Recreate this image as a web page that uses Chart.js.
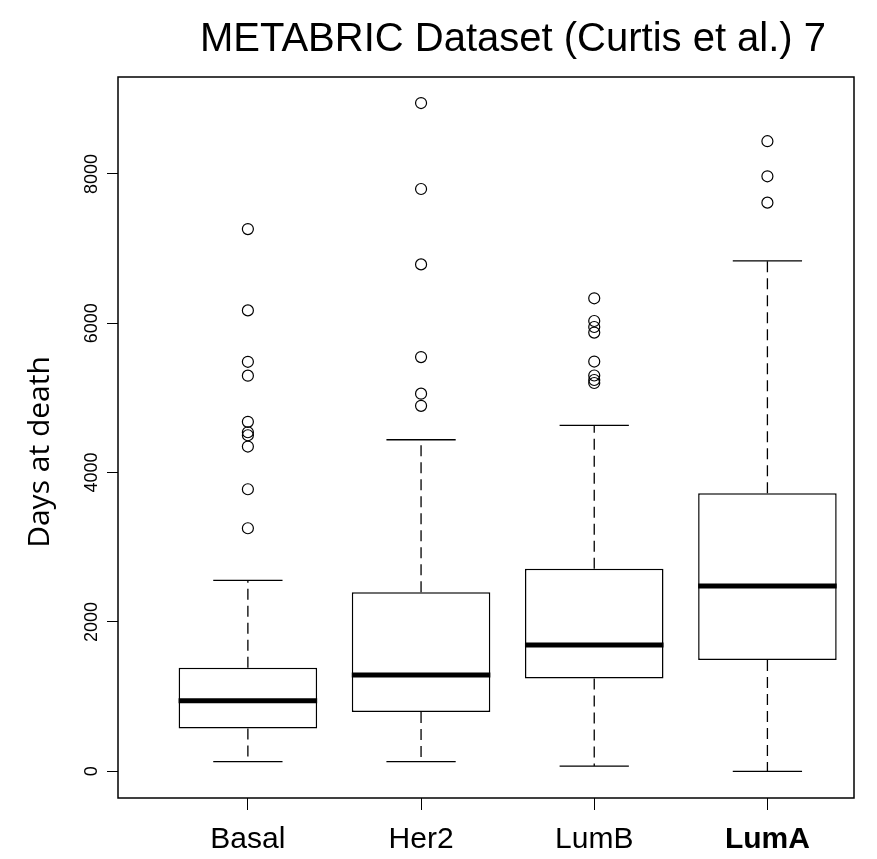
<!DOCTYPE html>
<html>
<head>
<meta charset="utf-8">
<title>METABRIC boxplot</title>
<script src="https://cdn.jsdelivr.net/npm/chart.js@4.4.1/dist/chart.umd.min.js"></script>
<style>
  html, body { margin: 0; padding: 0; background: #fff; }
  #wrap { position: relative; width: 877px; height: 859px; }
</style>
</head>
<body>
<div id="wrap"><canvas id="boxChart"></canvas></div>
<script>
// Days at death by PAM50 subtype, METABRIC (Curtis et al.)
const categories  = ['Basal', 'Her2', 'LumB', 'LumA'];
const whiskerLow  = [130, 130, 70, 0];
const q1          = [573, 795, 1244, 1492];
const medians     = [944, 1290, 1690, 2481];
const q3          = [1386, 2398, 2713, 3722];
const whiskerHigh = [2556, 4440, 4632, 6834];

const basalOutliers = [3255, 3777, 4349, 4500, 4540, 4680, 5298, 5484, 6172, 7261];
const her2Outliers  = [4894, 5057, 5547, 6788, 7798, 8949];
const lumBOutliers  = [5200, 5240, 5300, 5487, 5875, 5950, 6030, 6334];
const lumAOutliers  = [7615, 7968, 8438];

const yTicks = [0, 2000, 4000, 6000, 8000];
const chartTitle = 'METABRIC Dataset (Curtis et al.) 7';
const yTitle = 'Days at death';

const FONT = "'Liberation Sans', Arial, Helvetica, sans-serif";

// whiskers, staples and medians, placed through the chart scales
const boxWhiskers = {
  id: 'boxWhiskers',
  afterDatasetsDraw(chart) {
    const { ctx, scales: { x, y } } = chart;
    const cap  = x.getPixelForValue(1.2) - x.getPixelForValue(1);
    const half = x.getPixelForValue(1.4) - x.getPixelForValue(1);
    ctx.save();
    ctx.strokeStyle = '#000';
    ctx.lineCap = 'butt';
    categories.forEach((_, i) => {
      const cx = x.getPixelForValue(i + 1);
      const yHi = y.getPixelForValue(whiskerHigh[i]);
      const yLo = y.getPixelForValue(whiskerLow[i]);

      ctx.lineWidth = 1.3;
      ctx.setLineDash([11, 6]);
      ctx.beginPath();
      ctx.moveTo(cx, y.getPixelForValue(q3[i]));
      ctx.lineTo(cx, yHi);
      ctx.moveTo(cx, y.getPixelForValue(q1[i]));
      ctx.lineTo(cx, yLo);
      ctx.stroke();

      ctx.setLineDash([]);
      ctx.beginPath();
      ctx.moveTo(cx - cap, yHi);
      ctx.lineTo(cx + cap, yHi);
      ctx.moveTo(cx - cap, yLo);
      ctx.lineTo(cx + cap, yLo);
      ctx.stroke();

      const yMed = y.getPixelForValue(medians[i]);
      ctx.lineWidth = 5;
      ctx.beginPath();
      ctx.moveTo(cx - half, yMed);
      ctx.lineTo(cx + half, yMed);
      ctx.stroke();
    });
    ctx.restore();
  }
};

// plot frame, main title and y axis title (R-style placement)
const frameAndTitles = {
  id: 'frameAndTitles',
  beforeDraw(chart) {
    const { ctx, width, height } = chart;
    ctx.save();
    ctx.fillStyle = '#fff';
    ctx.fillRect(0, 0, width, height);
    ctx.restore();
  },
  afterDraw(chart) {
    const { ctx, chartArea: a } = chart;
    ctx.save();
    ctx.strokeStyle = '#000';
    ctx.lineWidth = 1.5;
    ctx.strokeRect(a.left, a.top, a.right - a.left, a.bottom - a.top);

    ctx.fillStyle = '#000';
    ctx.font = `40px ${FONT}`;
    ctx.textAlign = 'center';
    ctx.textBaseline = 'alphabetic';
    ctx.fillText(chartTitle, 513, 51);

    ctx.translate(40, 452);
    ctx.rotate(-Math.PI / 2);
    ctx.font = "30px 'Open Sans', sans-serif";
    ctx.textBaseline = 'middle';
    ctx.fillText(yTitle, 0, 0);
    ctx.restore();
  }
};

const outlierPoints = [basalOutliers, her2Outliers, lumBOutliers, lumAOutliers]
  .flatMap((vals, i) => vals.map(v => ({ x: i + 1, y: v })));

new Chart(document.getElementById('boxChart'), {
  type: 'bar',
  data: {
    datasets: [
      {
        type: 'bar',
        label: 'IQR',
        data: categories.map((c, i) => ({ x: i + 1, y: [q1[i], q3[i]] })),
        backgroundColor: '#fff',
        borderColor: '#000',
        borderWidth: 1.5,
        borderSkipped: false,
        barPercentage: 1,
        categoryPercentage: 0.8,
        order: 2,
      },
      {
        type: 'scatter',
        label: 'Outliers',
        data: outlierPoints,
        pointStyle: 'circle',
        pointRadius: 5.5,
        pointBorderWidth: 1.2,
        pointBorderColor: '#000',
        pointBackgroundColor: 'rgba(0,0,0,0)',
        order: 1,
      },
    ],
  },
  options: {
    responsive: true,
    maintainAspectRatio: false,
    animation: false,
    layout: { padding: { top: 77, right: 23, bottom: 0, left: 0 } },
    plugins: {
      legend: { display: false },
      tooltip: { enabled: false },
      title: { display: false },
    },
    scales: {
      x: {
        type: 'linear',
        min: 0.25,
        max: 4.5,
        offset: false,
        afterBuildTicks: (s) => { s.ticks = categories.map((_, i) => ({ value: i + 1 })); },
        afterFit: (s) => { s.height = 61; },
        grid: { offset: false, drawOnChartArea: false, drawTicks: true, tickLength: 12, color: '#000', lineWidth: 1 },
        border: { display: false },
        ticks: {
          color: '#000',
          padding: 12,
          autoSkip: false,
          maxRotation: 0,
          font: (ctx) => ({ family: FONT, size: 30, weight: ctx.index === 3 ? 'bold' : 'normal' }),
          callback: (v) => categories[v - 1],
        },
      },
      y: {
        min: -357.6,
        max: 9297.6,
        afterBuildTicks: (s) => { s.ticks = yTicks.map(v => ({ value: v })); },
        afterFit: (s) => { s.width = 118; },
        grid: { drawOnChartArea: false, drawTicks: true, tickLength: 11, color: '#000', lineWidth: 1 },
        border: { display: false },
        ticks: {
          color: '#000',
          font: { family: FONT, size: 18 },
          minRotation: 90,
          maxRotation: 90,
          crossAlign: 'center',
          padding: -5,
          callback: (v) => String(v),
        },
      },
    },
  },
  plugins: [boxWhiskers, frameAndTitles],
});
</script>
</body>
</html>
